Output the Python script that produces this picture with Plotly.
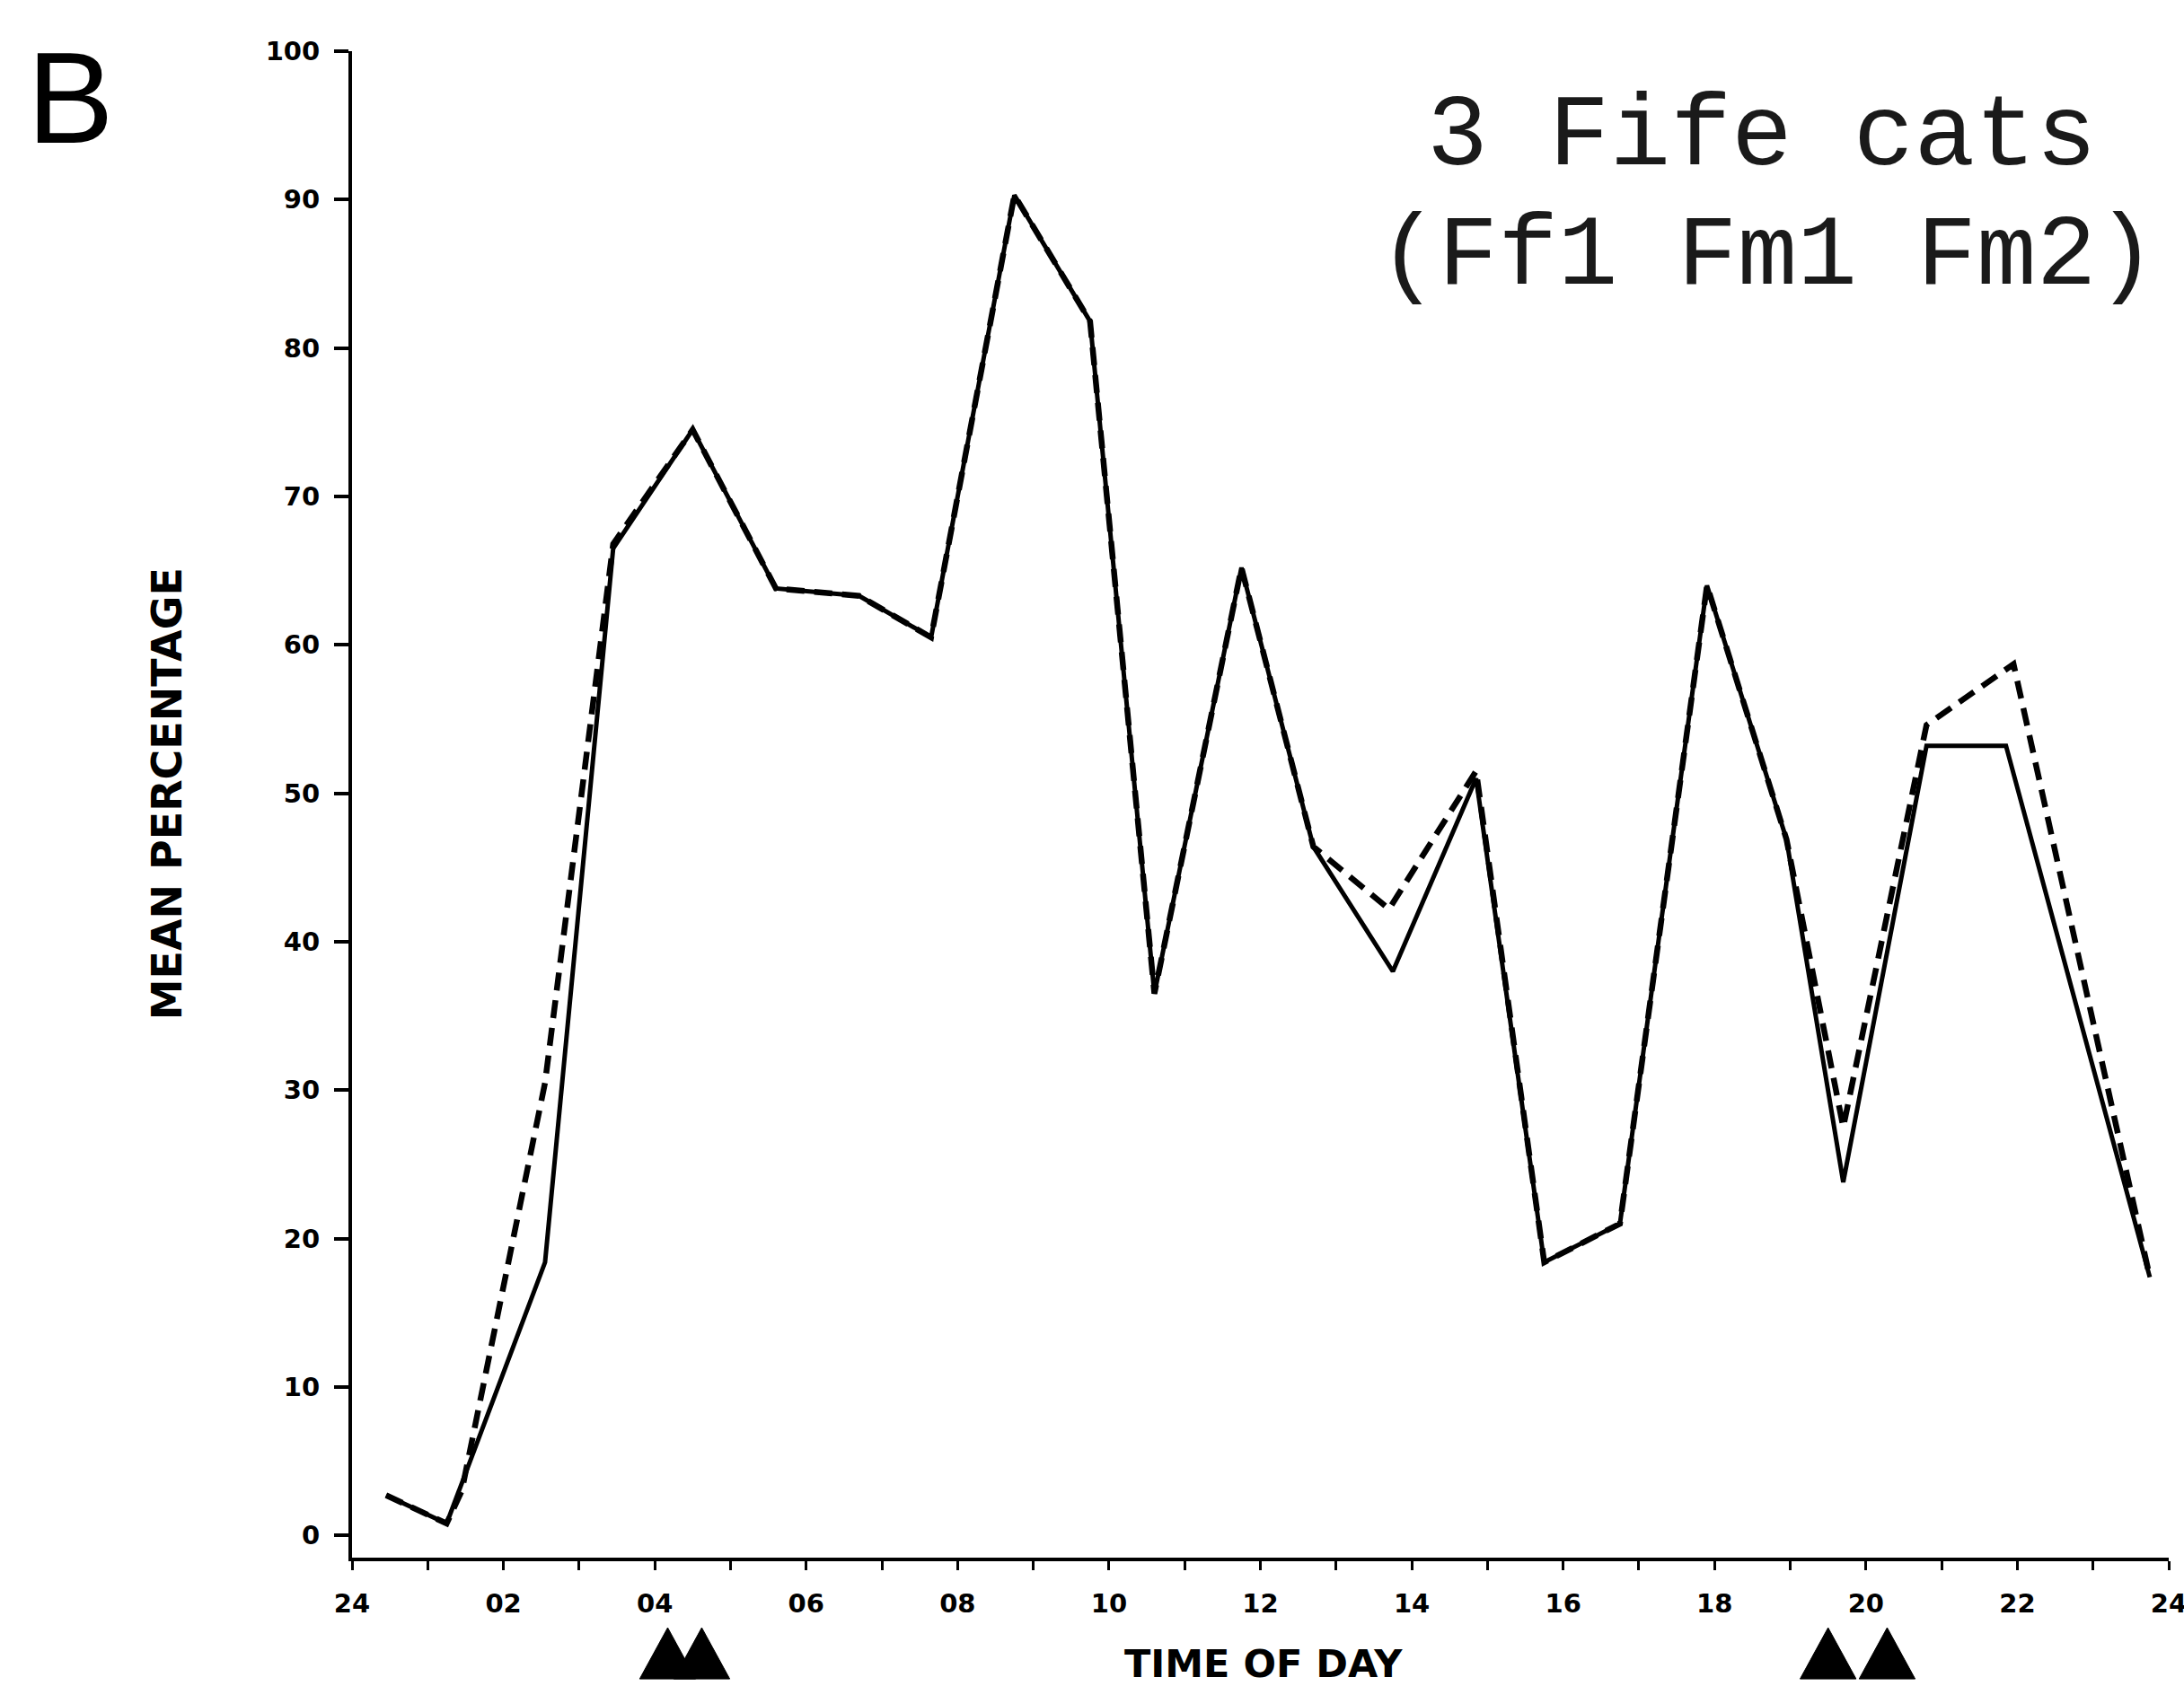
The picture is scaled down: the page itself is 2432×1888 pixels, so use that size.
import plotly.graph_objects as go

# ---- data ----
hours_solid = [0.45, 1.25, 2.55, 3.45, 4.5, 5.6, 6.7, 7.65, 8.75, 9.75, 10.6, 11.75,
               12.7, 13.75, 14.85, 15.75, 16.75, 17.9, 18.95, 19.7, 20.8, 21.85, 23.75]
pct_solid = [2.7, 0.8, 18.4, 66.5, 74.5, 63.8, 63.3, 60.5, 90.3, 81.8, 36.5, 65.2,
             46.4, 38.0, 51.0, 18.4, 21.0, 64.0, 46.9, 23.8, 53.2, 53.2, 17.4]

hours_dashed = [0.45, 1.25, 1.45, 2.55, 3.45, 4.5, 5.6, 6.7, 7.65, 8.75, 9.75, 10.6, 11.75,
                12.7, 13.7, 14.85, 15.75, 16.75, 17.9, 18.95, 19.7, 20.8, 21.95, 22.95, 23.75]
pct_dashed = [2.7, 0.8, 3.0, 30.5, 66.8, 74.5, 63.8, 63.3, 60.5, 90.3, 81.8, 36.5, 65.2,
              46.4, 42.2, 51.5, 18.4, 21.0, 64.0, 46.9, 27.5, 54.6, 58.7, 36.0, 17.4]

x_tick_vals = list(range(0, 25))
x_tick_labels = ["24", "", "02", "", "04", "", "06", "", "08", "", "10", "", "12", "",
                 "14", "", "16", "", "18", "", "20", "", "22", "", "24"]
y_tick_vals = [0, 10, 20, 30, 40, 50, 60, 70, 80, 90, 100]
y_tick_labels = ["0", "10", "20", "30", "40", "50", "60", "70", "80", "90", "100"]

marker_hours = [4.17, 4.62, 19.5, 20.28]   # solid triangles under the time axis

title_line1 = "3 Fife cats"
title_line2 = "(Ff1 Fm1 Fm2)"
panel_label = "B"
x_title = "TIME OF DAY"
y_title = "MEAN PERCENTAGE"

# ---- figure ----
fig = go.Figure()
fig.add_trace(go.Scatter(x=hours_dashed, y=pct_dashed, mode="lines",
                         line=dict(color="black", width=6.5, dash="20px,11px"),
                         showlegend=False, hoverinfo="skip"))
fig.add_trace(go.Scatter(x=hours_solid, y=pct_solid, mode="lines",
                         line=dict(color="black", width=5),
                         showlegend=False, hoverinfo="skip"))

hw = 0.37
y_base, y_apex = -0.0805, -0.0465
shapes = []
for h in marker_hours:
    shapes.append(dict(type="path", xref="x", yref="paper",
                       path=f"M {h - hw},{y_base} L {h},{y_apex} L {h + hw},{y_base} Z",
                       fillcolor="black", line=dict(color="black", width=1)))

tickfont = dict(family="DejaVu Sans", size=29, color="black", weight="bold")
fig.update_layout(
    width=2432, height=1888,
    margin=dict(l=392, r=17, t=57, b=153, autoexpand=False),
    paper_bgcolor="white", plot_bgcolor="white",
    shapes=shapes,
    xaxis=dict(range=[0, 24], tickvals=x_tick_vals, ticktext=x_tick_labels,
               showline=True, linecolor="black", linewidth=3.5,
               ticks="outside", ticklen=10, tickwidth=3, tickcolor="black",
               showgrid=False, zeroline=False, tickfont=tickfont,
               ticklabelstandoff=12, ticklabeloverflow="allow", automargin=False),
    yaxis=dict(range=[-1.5, 100], tickvals=y_tick_vals, ticktext=y_tick_labels,
               showline=True, linecolor="black", linewidth=4,
               ticks="outside", ticklen=16, tickwidth=4, tickcolor="black",
               showgrid=False, zeroline=False, tickfont=tickfont,
               ticklabelstandoff=10, automargin=False),
    annotations=[
        dict(text=panel_label, xref="paper", yref="paper", x=-0.155, y=0.969,
             xanchor="center", yanchor="middle", showarrow=False,
             font=dict(family="Liberation Sans", size=145, color="black")),
        dict(text=title_line1, xref="paper", yref="paper", x=0.776, y=0.943,
             xanchor="center", yanchor="middle", showarrow=False,
             font=dict(family="Liberation Mono", size=113, color="#1a1a1a")),
        dict(text=title_line2, xref="paper", yref="paper", x=0.779, y=0.863,
             xanchor="center", yanchor="middle", showarrow=False,
             font=dict(family="Liberation Mono", size=111, color="#1a1a1a")),
        dict(text=x_title, xref="paper", yref="paper", x=0.5017, y=-0.0703,
             xanchor="center", yanchor="middle", showarrow=False,
             font=dict(family="DejaVu Sans", size=43, color="black", weight="bold")),
        dict(text=y_title, xref="paper", yref="paper", x=-0.1018, y=0.507,
             xanchor="center", yanchor="middle", showarrow=False, textangle=-90,
             font=dict(family="DejaVu Sans", size=46, color="black", weight="bold")),
    ],
)

fig.write_html("out.html")
